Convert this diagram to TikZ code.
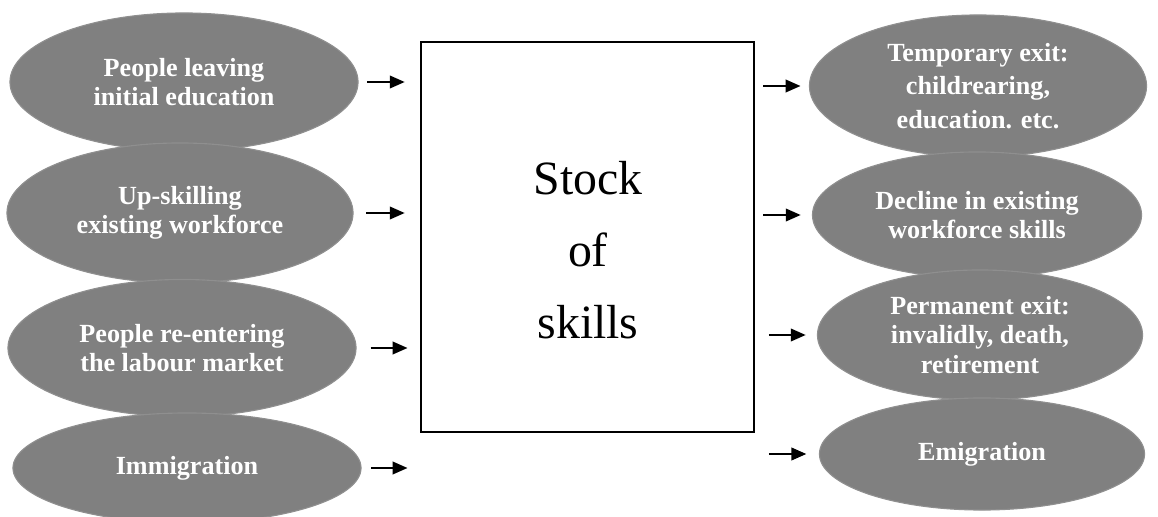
\documentclass[tikz,border=0pt]{standalone}
\usepackage{fontspec}
\setmainfont{Liberation Serif}
\usepackage{xcolor}
\usepackage{tikz}
\usetikzlibrary{positioning, calc, shapes.geometric, arrows.meta}

\tikzset{
    flow/.style = {ellipse, fill=gray, draw=gray!88, line width=0.8pt,
        inner sep=0pt, text=white, align=center,
        font={\bfseries\fontsize{18.6}{21}\selectfont}},
    arr/.style = {-{Triangle[length=10.5pt, width=9pt]}, line width=1.1pt}
}

\begin{document}
\begin{tikzpicture}[x=0.025cm, y=-0.025cm]
        \useasboundingbox (0,0) rectangle (1158,517);
        \node (rectangle) [draw, rectangle, line width=1.2pt, minimum width
        = 8.325cm, minimum height = 9.75cm] (stock) at (587.5,237) {} ;
        \node (stocktxt) [align=center, font={\fontsize{34}{51}\selectfont}]
        at (588,250) {Stock\\of\\skills};
        \node (in1) [flow, minimum width = 8.7cm, minimum height = 3.45cm]
        at (184,82) {People leaving\\initial education};
        \node (in2) [flow, minimum width = 8.65cm, minimum height = 3.5cm]
        at (180,213) {Up-skilling\\existing workforce};
        \node (in3) [flow, minimum width = 8.7cm, minimum height = 3.425cm]
        at (182,348) {People re-entering\\the labour market};
        \node (in4) [flow, minimum width = 8.7cm, minimum height = 2.75cm]
        at (187,468) {Immigration};
        \node (out1) [flow, minimum width = 8.425cm, minimum height = 3.55cm]
        at (978,86) {Temporary exit:\\[3pt]childrearing,\\[3pt]education. etc.};
        \node (out2) [flow, minimum width = 8.225cm, minimum height = 3.15cm]
        at (977,215) {Decline in existing\\workforce skills};
        \node (out3) [flow, minimum width = 8.125cm, minimum height = 3.25cm]
        at (980,335) {Permanent exit:\\invalidly, death,\\retirement};
        \node (out4) [flow, minimum width = 8.125cm, minimum height = 2.8cm]
        at (982,454) {Emigration};
        \draw [arr, shorten <= 6pt, shorten >= 11pt] (in1.east) -- (in1.east
        -| stock.west);
        \draw [arr, shorten <= 9pt, shorten >= 11pt] (in2.east) -- (in2.east
        -| stock.west);
        \draw [arr, shorten <= 10pt, shorten >= 9pt] (in3.east) -- (in3.east
        -| stock.west);
        \draw [arr, shorten <= 7pt, shorten >= 9pt] (in4.east) -- (in4.east
        -| stock.west);
        \draw [arr, shorten <= 6pt, shorten >= 6pt] (stock.east |- out1.west)
        -- (out1.west);
        \draw [arr, shorten <= 6pt, shorten >= 8pt] (stock.east |- out2.west)
        -- (out2.west);
        \draw [arr, shorten <= 10pt, shorten >= 8pt] (stock.east |- out3.west)
        -- (out3.west);
        \draw [arr, shorten <= 10pt, shorten >= 9pt] (stock.east |- out4.west)
        -- (out4.west);
    \end{tikzpicture}
\end{document}
